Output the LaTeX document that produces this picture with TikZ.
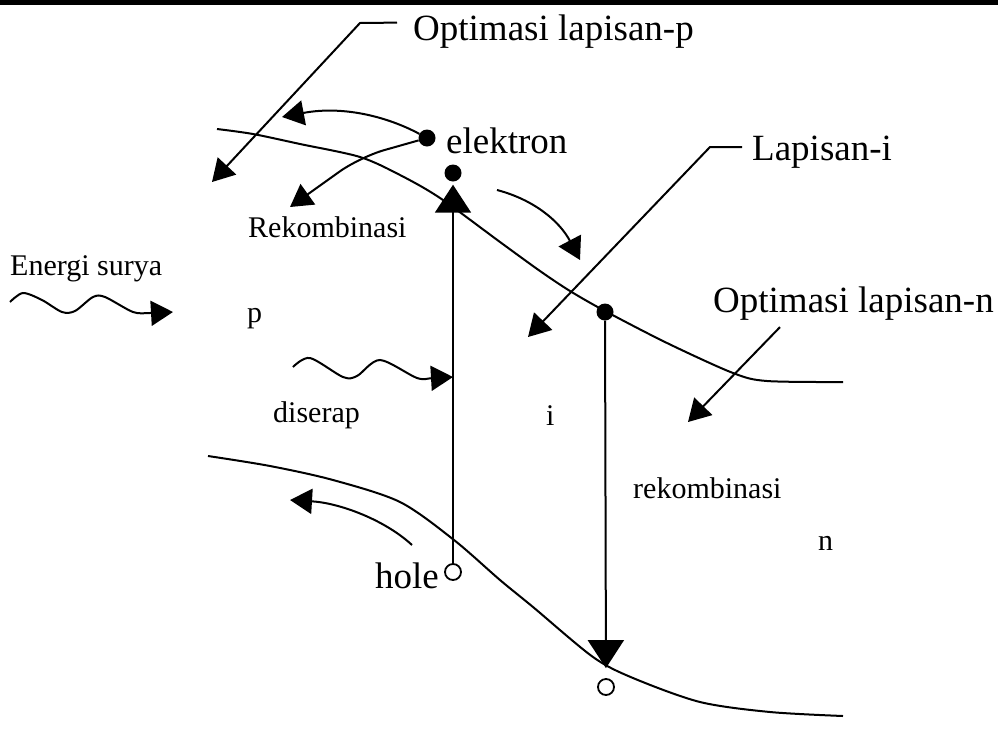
\documentclass[tikz,border=0pt]{standalone}
\usepackage{fontspec}
\setmainfont{Liberation Serif}
\usetikzlibrary{arrows.meta,positioning}
\tikzset{
  lbl/.style  = {font=\fontsize{37}{40}\selectfont, inner sep=0pt, anchor=base west},
  sm/.style   = {font=\fontsize{30}{32}\selectfont, inner sep=0pt, anchor=base west},
  dot/.style  = {circle, fill=black, minimum size=17pt, inner sep=0pt},
  hl/.style   = {circle, draw=black, fill=white, line width=1.8pt,
                 minimum size=16pt, inner sep=0pt},
  band/.style = {line width=2pt, line join=round},
  ar/.style   = {-{Triangle[length=22pt,width=25pt]}, line width=2pt},
  arv/.style  = {-{Triangle[length=28pt,width=36pt]}, line width=2pt},
}

\begin{document}
\begin{tikzpicture}[x=1pt,y=-1pt]
  \useasboundingbox (0,0) rectangle (998,737);
  \fill[white] (0,0) rectangle (998,737);
  \fill[black] (0,0) rectangle (998,5);

  \draw[band] plot[smooth] coordinates {(217,129) (253,134) (300,144) (360,157)
    (400,175) (440,198) (500,242) (540,271) (570,291) (605,311) (667,343)
    (733,373) (767,381) (843,382)};
  \draw[band] plot[smooth] coordinates {(208,456) (270,466) (333,480) (400,502)
    (454,540) (500,580) (533,607) (593,657) (633,678) (700,702) (770,712)
    (843,716)};

  \node[lbl] (optp) at (413,40)  {Optimasi lapisan-p};
  \node[lbl] (elek) at (446,153) {elektron};
  \node[lbl] (lapi) at (752,160) {Lapisan-i};
  \node[lbl] (optn) at (713,312) {Optimasi lapisan-n};
  \node[lbl] (hole) at (375,588) {hole};
  \node[sm] (rek1) at (248,237) {Rekombinasi};
  \node[sm] (surya) at (10,275) {Energi surya};
  \node[sm] (serap) at (273,422) {diserap};
  \node[sm] (rek2) at (633,498) {rekombinasi};
  \foreach \t/\x/\y in {p/247/322, i/546/425, n/818/550}{
    \node[sm] (l\t) at (\x,\y) {\t};
  }

  \foreach \n/\x/\y in {e1/427/138, e2/453/173, e3/605/312}{
    \node[dot] (\n) at (\x,\y) {};
  }
  \node[hl] (h1) at (453,572) {};
  \node[hl] (h2) at (606,687) {};

  \coordinate (kp) at (360,23);  \coordinate (tp) at (212,182);
  \coordinate (ki) at (710,147); \coordinate (ti) at (528,337);
  \coordinate (tn) at (688,422);
  \coordinate (ta) at (282,117); \coordinate (tb) at (290,207);
  \coordinate (kr) at (360,157);
  \coordinate (c1) at (497,190); \coordinate (c2) at (580,260);
  \coordinate (c3) at (412,545); \coordinate (c4) at (290,500);

  \draw[ar] ([xshift=-16pt,yshift=8.5pt]optp.west) -- (kp) -- (tp);
  \draw[ar] ([xshift=-10pt,yshift=4.5pt]lapi.west) -- (ki) -- (ti);
  \draw[ar] ([xshift=67pt,yshift=-7pt]optn.south west) -- (tn);

  \draw[ar] (e1) .. controls (390,118) and (345,105) .. (ta);
  \draw[ar, rounded corners=25pt] (e1) -- (kr) -- (tb);
  \draw[ar] (c1) .. controls (535,200) and (560,222) .. (c2);
  \draw[ar] (c3) .. controls (385,520) and (340,503) .. (c4);

  \draw[arv, shorten >=3pt] (h1) -- (e2);
  \draw[arv, shorten >=10pt] (e3) -- (h2);

  \draw[ar] plot[smooth] coordinates {(10,302) (23,293) (42,300) (62,312)
    (75,311) (93,297) (105,297) (133,312) (150,313) (173,312)};
  \draw[ar] plot[smooth] coordinates {(293,367) (310,358) (343,377) (357,376)
    (380,360) (417,378) (433,378) (453,377)};
\end{tikzpicture}
\end{document}
